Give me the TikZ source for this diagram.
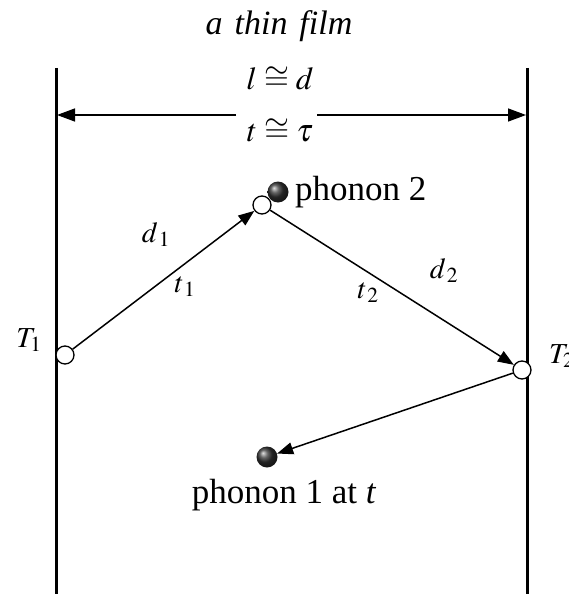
\documentclass[tikz,border=0pt]{standalone}
\usepackage{mathptmx}
\usepackage[no-math]{fontspec}
\setmainfont{Liberation Serif}
\usetikzlibrary{arrows.meta}
\begin{document}
\begin{tikzpicture}[x=1pt,y=-1pt,
  wall/.style={line width=3pt},
  link/.style={line width=1.5pt},
  tip/.style={-{Triangle[length=16pt,width=12pt]}},
  arr/.style={link,tip},
  site/.style={circle,draw,line width=1.3pt,fill=white,minimum size=18pt,inner sep=0pt},
  ball/.style={circle,shading=ball,ball color=black!80,minimum size=21pt,inner sep=0pt},
  txt/.style={font=\fontsize{35}{37}\selectfont,inner sep=0pt},
  mlbl/.style={font=\fontsize{29}{31}\selectfont,inner sep=0pt}]
\useasboundingbox (0,0) rectangle (569,594);
\draw[wall] (56,68) coordinate (lt) -- (56,594) coordinate (lb);
\draw[wall] (527,68) coordinate (rt) -- (527,594) coordinate (rb);
\node[txt,font=\fontsize{34}{36}\selectfont\itshape,anchor=base] (title) at (279,35) {a\hspace{0.35em}thin\hspace{0.35em}film};
\node[mlbl,font=\fontsize{32}{34}\selectfont,anchor=base] (ld) at (280,89) {$l\cong d$};
\node[mlbl,font=\fontsize{32}{34}\selectfont,anchor=base] (tt) at (280,141) {$t\cong \tau$};
\coordinate (aLs) at (236,115);
\coordinate (aL) at (57,115);
\coordinate (aRs) at (317,115);
\coordinate (aR) at (526,115);
\draw[link,-{Triangle[length=18pt,width=13pt]}] (aLs) -- (aL);
\draw[link,-{Triangle[length=18pt,width=13pt]}] (aRs) -- (aR);
\node[site] (s1) at (65,355) {};
\node[site] (s2) at (262,205) {};
\node[site] (s3) at (522,370) {};
\node[ball] (p2) at (278,192) {};
\node[ball] (p1) at (267,457) {};
\node[txt,anchor=base west] (t2lab) at (295,200) {phonon 2};
\node[txt,anchor=base] (t1lab) at (284,503) {phonon 1 at \textit{t}};
\draw[arr] (s1) -- (s2);
\draw[arr] (s2) -- (s3);
\draw[arr] (s3) -- (p1);
\node[mlbl,anchor=base] (d1) at (156,242) {$d_{\,1}$};
\node[mlbl,anchor=base] (tl1) at (185,292) {$t_{\,1}$};
\node[mlbl,anchor=base] (tl2) at (368,298) {$t_{\,2}$};
\node[mlbl,anchor=base] (d2) at (444,278) {$d_{\,2}$};
\node[mlbl,anchor=base] (T1) at (29,347) {$T_1$};
\node[mlbl,anchor=base west] (T2) at (549,363) {$T_2$};
\end{tikzpicture}
\end{document}
